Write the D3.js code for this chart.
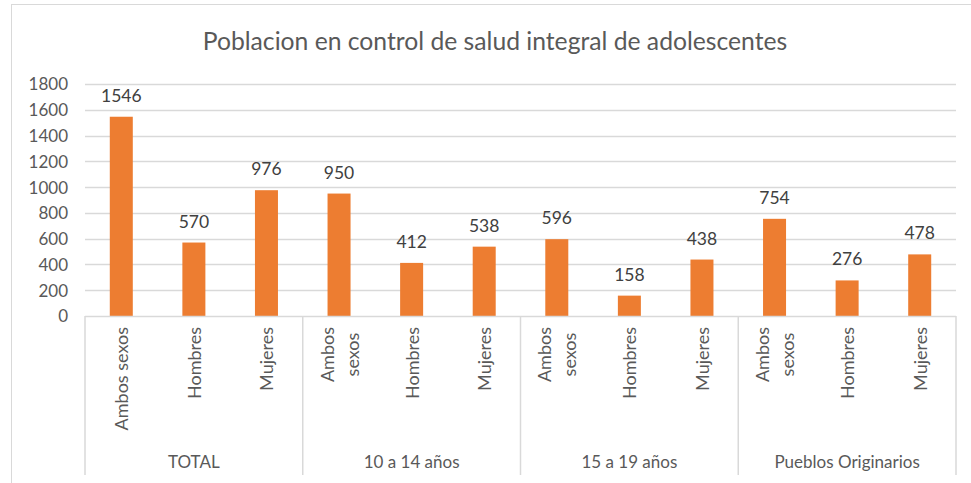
<!DOCTYPE html>
<html>
<head>
<meta charset="utf-8">
<script src="https://cdn.jsdelivr.net/npm/d3@7"></script>
<style>
  html, body { margin: 0; padding: 0; background: #fff; }
  svg { display: block; }
  text { font-family: Lato, "Open Sans", sans-serif; }
</style>
</head>
<body>
<svg id="chart" width="971" height="483"></svg>
<script>
// ---- data ----
const title = "Poblacion en control de salud integral de adolescentes";
const groups = ["TOTAL", "10 a 14 años", "15 a 19 años", "Pueblos Originarios"];
const categoryLabels = [
  ["Ambos sexos"], ["Hombres"], ["Mujeres"],
  ["Ambos", "sexos"], ["Hombres"], ["Mujeres"],
  ["Ambos", "sexos"], ["Hombres"], ["Mujeres"],
  ["Ambos", "sexos"], ["Hombres"], ["Mujeres"]
];
const groupOfCategory = [0,0,0,1,1,1,2,2,2,3,3,3];
const values = [1546, 570, 976, 950, 412, 538, 596, 158, 438, 754, 276, 478];
const yTicks = [0, 200, 400, 600, 800, 1000, 1200, 1400, 1600, 1800];

// ---- layout ----
const svg = d3.select("#chart");
const plot = { left: 85, right: 956, top: 84, bottom: 316 };
const labelBottom = 475;

// outer frame
svg.append("rect")
  .attr("x", 11.5).attr("y", 4.5)
  .attr("width", 1000).attr("height", 600)
  .attr("fill", "none").attr("stroke", "#D9D9D9").attr("stroke-width", 1);

const idx = values.map((d, i) => i);
const x = d3.scaleBand().domain(idx).range([plot.left, plot.right]).paddingInner(0.683).paddingOuter(0.3415);
const xOuter = d3.scaleBand().domain(idx).range([plot.left, plot.right]);
const y = d3.scaleLinear().domain([0, 1800]).range([plot.bottom, plot.top]);

// gridlines
svg.append("g").selectAll("line").data(yTicks.filter(t => t > 0)).join("line")
  .attr("x1", plot.left).attr("x2", plot.right)
  .attr("y1", d => Math.round(y(d)) + 0.5).attr("y2", d => Math.round(y(d)) + 0.5)
  .attr("stroke", "#D9D9D9").attr("stroke-width", 1.5);

// y axis labels
const yAxis = d3.axisLeft(y).tickValues(yTicks).tickFormat(d3.format("d")).tickSize(0).tickPadding(0);
const yg = svg.append("g").attr("transform", `translate(68,0)`).call(yAxis);
yg.select(".domain").remove();
yg.selectAll("text").attr("font-size", 17).attr("fill", "#595959")
  .attr("font-family", "Lato, sans-serif").attr("dy", "0.35em");

// bars
svg.append("g").selectAll("rect").data(values).join("rect")
  .attr("x", (d, i) => x(i)).attr("width", x.bandwidth())
  .attr("y", d => y(d)).attr("height", d => y(0) - y(d))
  .attr("fill", "#ED7D31");

// value labels
svg.append("g").selectAll("text").data(values).join("text")
  .attr("x", (d, i) => x(i) + x.bandwidth() / 2)
  .attr("y", d => y(d) - 15)
  .attr("text-anchor", "middle")
  .attr("font-size", 17.5).attr("fill", "#404040")
  .text(d => d);

// x axis line
svg.append("line")
  .attr("x1", plot.left).attr("x2", plot.right)
  .attr("y1", plot.bottom + 0.5).attr("y2", plot.bottom + 0.5)
  .attr("stroke", "#D9D9D9").attr("stroke-width", 1.5);

// group dividers
const groupBounds = d3.range(groups.length + 1).map(g => plot.left + g * 3 * xOuter.bandwidth());
svg.append("g").selectAll("line").data(groupBounds).join("line")
  .attr("x1", d => d).attr("x2", d => d)
  .attr("y1", plot.bottom).attr("y2", labelBottom)
  .attr("stroke", "#D9D9D9").attr("stroke-width", 1.5);

// category labels (rotated)
const catTop = 327;
const lineGap = 25;
categoryLabels.forEach((lines, i) => {
  const cx = xOuter(i) + xOuter.bandwidth() / 2;
  const g = svg.append("g");
  const texts = lines.map((ln, k) => g.append("text")
    .attr("font-size", 18).attr("fill", "#595959").text(ln));
  const maxLen = d3.max(texts, t => t.node().getComputedTextLength());
  const yc = catTop + maxLen / 2;
  texts.forEach((t, k) => {
    const off = (k - (lines.length - 1) / 2) * lineGap;
    t.attr("text-anchor", "middle")
      .attr("transform", `translate(${cx + off + 7},${yc}) rotate(-90)`);
  });
});

// group labels
svg.append("g").selectAll("text").data(groups).join("text")
  .attr("x", (d, g) => (groupBounds[g] + groupBounds[g + 1]) / 2)
  .attr("y", 468)
  .attr("text-anchor", "middle")
  .attr("font-size", 17).attr("fill", "#595959")
  .text(d => d);

// title
svg.append("text")
  .attr("x", 495).attr("y", 50)
  .attr("text-anchor", "middle")
  .attr("font-size", 24.7).attr("fill", "#595959")
  .text(title);
</script>
</body>
</html>
